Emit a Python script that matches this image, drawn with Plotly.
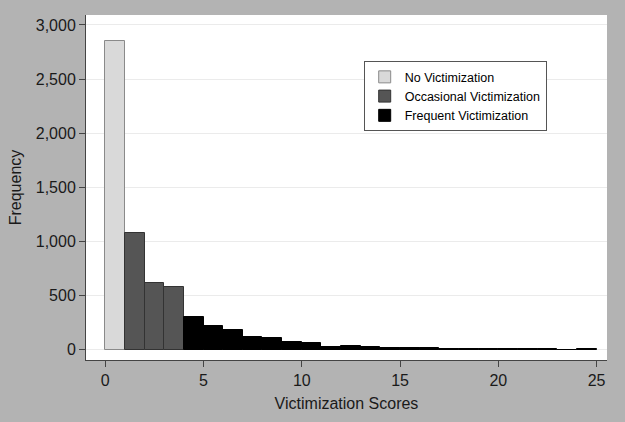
import plotly.graph_objects as go

# Histogram bins (left edges, width 1) and frequencies
bin_left = list(range(0, 25))
counts = [2850, 1075, 620, 575, 300, 215, 180, 115, 105, 75, 63, 28, 37, 22,
          15, 14, 13, 8, 7, 7, 6, 6, 6, 0, 7]

groups = ["No Victimization", "Occasional Victimization", "Frequent Victimization"]
group_ranges = [(0, 1), (1, 4), (4, 25)]
fills = ["#d9d9d9", "#555555", "#000000"]
outlines = ["#8a8a8a", "#333333", "#000000"]

x_ticks = [0, 5, 10, 15, 20, 25]
y_ticks = [0, 500, 1000, 1500, 2000, 2500, 3000]

fig = go.Figure()
for name, (lo, hi), fc, lc in zip(groups, group_ranges, fills, outlines):
    xs = [b + 0.5 for b in bin_left[lo:hi]]
    ys = counts[lo:hi]
    fig.add_trace(go.Bar(
        x=xs, y=ys, width=1, name=name,
        marker=dict(color=fc, line=dict(color=lc, width=1)),
    ))

font_family = "Liberation Sans, Arial, sans-serif"
fig.update_layout(
    width=625, height=422,
    margin=dict(l=86, r=18, t=15, b=62),
    paper_bgcolor="#b3b3b3",
    plot_bgcolor="#ffffff",
    bargap=0,
    barmode="overlay",
    font=dict(family=font_family, color="#1a1a1a", size=16),
    showlegend=True,
    legend=dict(
        x=0.533, y=0.866, xanchor="left", yanchor="top",
        bgcolor="#ffffff", bordercolor="#555555", borderwidth=1,
        font=dict(size=12.5, color="#000000"),
        traceorder="normal",
    ),
    xaxis=dict(
        range=[-0.98, 25.53],
        tickvals=x_ticks,
        ticks="outside", ticklen=6, tickcolor="#444444",
        showline=True, linecolor="#444444", linewidth=1,
        showgrid=False, zeroline=False,
        title=dict(text="Victimization Scores", font=dict(size=16), standoff=9),
        tickfont=dict(size=16),
    ),
    yaxis=dict(
        range=[-95, 3092],
        tickvals=y_ticks,
        tickformat=",",
        ticks="outside", ticklen=6, tickcolor="#444444",
        showline=True, linecolor="#444444", linewidth=1,
        showgrid=True, gridcolor="#ebebeb", gridwidth=1,
        zeroline=False,
        title=dict(text="Frequency", font=dict(size=16), standoff=10),
        tickfont=dict(size=16),
    ),
)

fig.write_html("out.html", config={"displayModeBar": False},
               post_script="document.body.style.margin='0';")
